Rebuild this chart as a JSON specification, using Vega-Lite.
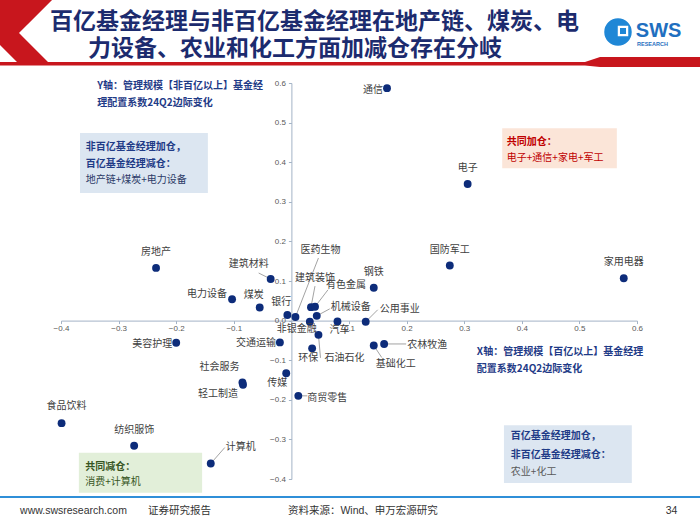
{
  "$schema": "https://vega.github.io/schema/vega-lite/v6.json",
  "width": 576,
  "height": 396,
  "autosize": {"type": "none"},
  "padding": {"left": 61, "top": 83, "right": 63, "bottom": 46},
  "background": "white",
  "title": {
    "text": "百亿基金经理与非百亿基金经理在地产链、煤炭、电",
    "anchor": "start", "frame": "group", "dx": -11, "offset": 22, "dy": 56,
    "font": "Noto Sans CJK SC", "fontSize": 23, "fontWeight": "bold", "color": "#1c2b6e"
  },
  "datasets": {
    "pts": [
      {"name": "通信", "x": 0.166, "y": 0.587},
      {"name": "电子", "x": 0.306, "y": 0.345},
      {"name": "国防军工", "x": 0.275, "y": 0.139},
      {"name": "家用电器", "x": 0.577, "y": 0.107},
      {"name": "钢铁", "x": 0.143, "y": 0.083},
      {"name": "房地产", "x": -0.235, "y": 0.133},
      {"name": "建筑材料", "x": -0.036, "y": 0.105},
      {"name": "电力设备", "x": -0.103, "y": 0.054},
      {"name": "煤炭", "x": -0.055, "y": 0.033},
      {"name": "银行", "x": -0.007, "y": 0.014},
      {"name": "医药生物", "x": 0.007, "y": 0.009},
      {"name": "非银金融", "x": 0.032, "y": -0.003},
      {"name": "建筑装饰", "x": 0.034, "y": 0.034},
      {"name": "有色金属", "x": 0.041, "y": 0.035},
      {"name": "机械设备", "x": 0.044, "y": 0.012},
      {"name": "汽车", "x": 0.080, "y": -0.002},
      {"name": "公用事业", "x": 0.129, "y": -0.003},
      {"name": "石油石化", "x": 0.047, "y": -0.036},
      {"name": "环保", "x": 0.036, "y": -0.070},
      {"name": "交通运输", "x": -0.020, "y": -0.055},
      {"name": "传媒", "x": -0.009, "y": -0.133},
      {"name": "社会服务", "x": -0.085, "y": -0.156},
      {"name": "轻工制造", "x": -0.084, "y": -0.162},
      {"name": "商贸零售", "x": 0.012, "y": -0.190},
      {"name": "基础化工", "x": 0.143, "y": -0.063},
      {"name": "农林牧渔", "x": 0.161, "y": -0.059},
      {"name": "美容护理", "x": -0.200, "y": -0.056},
      {"name": "食品饮料", "x": -0.399, "y": -0.259},
      {"name": "纺织服饰", "x": -0.273, "y": -0.316},
      {"name": "计算机", "x": -0.140, "y": -0.361}
    ],
    "boxes": [
      {"group": "UL", "x": -0.367, "x2": -0.145, "y": 0.474, "y2": 0.322},
      {"group": "UR", "x": 0.366, "x2": 0.565, "y": 0.486, "y2": 0.385},
      {"group": "LR", "x": 0.369, "x2": 0.591, "y": -0.264, "y2": -0.410},
      {"group": "LL", "x": -0.369, "x2": -0.155, "y": -0.334, "y2": -0.435}
    ],
    "notes": [
      {"role": "title2", "group": "T", "x": -0.3531, "y": 0.6871, "text": "力设备、农业和化工方面加减仓存在分岐"},
      {"role": "axis", "group": "Y", "x": -0.337, "y": 0.592, "text": "Y轴：管理规模【非百亿以上】基金经"},
      {"role": "axis", "group": "Y", "x": -0.337, "y": 0.549, "text": "理配置系数24Q2边际变化"},
      {"role": "axis", "group": "X", "x": 0.322, "y": -0.080, "text": "X轴：管理规模【百亿以上】基金经理"},
      {"role": "axis", "group": "X", "x": 0.322, "y": -0.122, "text": "配置系数24Q2边际变化"},
      {"role": "head", "group": "UL", "x": -0.357, "y": 0.438, "text": "非百亿基金经理加仓，"},
      {"role": "head", "group": "UL", "x": -0.357, "y": 0.395, "text": "百亿基金经理减仓："},
      {"role": "body", "group": "UL", "x": -0.357, "y": 0.355, "text": "地产链+煤炭+电力设备"},
      {"role": "head", "group": "UR", "x": 0.374, "y": 0.451, "text": "共同加仓："},
      {"role": "body", "group": "UR", "x": 0.374, "y": 0.411, "text": "电子+通信+家电+军工"},
      {"role": "head", "group": "LR", "x": 0.381, "y": -0.292, "text": "百亿基金经理加仓，"},
      {"role": "head", "group": "LR", "x": 0.381, "y": -0.340, "text": "非百亿基金经理减仓："},
      {"role": "body", "group": "LR", "x": 0.381, "y": -0.383, "text": "农业+化工"},
      {"role": "head", "group": "LL", "x": -0.358, "y": -0.370, "text": "共同减仓："},
      {"role": "body", "group": "LL", "x": -0.358, "y": -0.408, "text": "消费+计算机"},
      {"role": "footer", "group": "F", "x": -0.471, "y": -0.481, "text": "www.swsresearch.com"},
      {"role": "footer", "group": "F", "x": -0.249, "y": -0.481, "text": "证券研究报告"},
      {"role": "footer", "group": "F", "x": -0.006, "y": -0.481, "text": "资料来源：Wind、申万宏源研究"},
      {"role": "page", "group": "F", "x": 0.670, "y": -0.481, "text": "34"},
      {"role": "logo1", "group": "L", "x": 0.598, "y": 0.731, "text": "SWS"},
      {"role": "logo2", "group": "L", "x": 0.600, "y": 0.6985, "text": "RESEARCH"}
    ],
    "chev": [
      {"y": 0.8096, "x": -0.5059, "x2": -0.4156},
      {"y": 0.7263, "x": -0.5059, "x2": -0.4729},
      {"y": 0.6960, "x": -0.5059, "x2": -0.4521},
      {"y": 0.6530, "x": -0.4764, "x2": -0.4226}
    ],
    "bar": [
      {"x": -0.5059, "y": 0.6530, "y2": 0.6442},
      {"x": 0.5097, "y": 0.6530, "y2": 0.6442},
      {"x": 0.5358, "y": 0.6657, "y2": 0.6404},
      {"x": 0.7094, "y": 0.6657, "y2": 0.6404}
    ],
    "lines": [
      {"x": -0.5059, "x2": 0.7094, "y": -0.4455}
    ],
    "logo": [
      {"part": "circle", "x": 0.567, "y": 0.7288},
      {"part": "sq1", "x": 0.5757, "y": 0.7313},
      {"part": "sq2", "x": 0.5757, "y": 0.7313}
    ]
  },
  "encoding": {
    "x": {
      "field": "x", "type": "quantitative",
      "scale": {"domain": [-0.4, 0.6], "nice": false, "zero": false},
      "axis": {
        "values": [-0.4, -0.3, -0.2, -0.1, 0, 0.1, 0.2, 0.3, 0.4, 0.5, 0.6],
        "labelExpr": "datum.value == 0 ? '' : format(datum.value, '.1f')",
        "offset": -158.4, "title": null, "grid": false,
        "domainColor": "#a3b3c6", "tickColor": "#a3b3c6", "tickSize": 3,
        "labelFont": "Liberation Sans", "labelFontSize": 8, "labelColor": "#595959",
        "labelPadding": 1, "labelFlush": false, "labelOverlap": false
      }
    },
    "y": {
      "field": "y", "type": "quantitative",
      "scale": {"domain": [-0.4, 0.6], "nice": false, "zero": false},
      "axis": {
        "values": [-0.4, -0.3, -0.2, -0.1, 0, 0.1, 0.2, 0.3, 0.4, 0.5, 0.6],
        "format": ".1f",
        "offset": -230.4, "title": null, "grid": false,
        "domainColor": "#a3b3c6", "tickColor": "#a3b3c6", "tickSize": 3,
        "labelFont": "Liberation Sans", "labelFontSize": 8, "labelColor": "#595959",
        "labelPadding": 3, "labelFlush": false, "labelOverlap": false
      }
    }
  },
  "layer": [
    {"data": {"name": "chev"}, "mark": {"type": "area", "orient": "horizontal", "color": "#c8161d"}, "encoding": {"x2": {"field": "x2"}}},
    {"data": {"name": "bar"}, "mark": {"type": "area", "orient": "vertical", "color": "#c8161d"}, "encoding": {"y2": {"field": "y2"}}},
    {"data": {"name": "boxes"}, "mark": {"type": "rect"}, "encoding": {
      "x2": {"field": "x2"}, "y2": {"field": "y2"},
      "color": {"field": "group", "type": "nominal", "legend": null,
        "scale": {"domain": ["UL", "UR", "LR", "LL"], "range": ["#dce6f1", "#fbe5d8", "#dce6f1", "#e2efd9"]}}
    }},
    {"data": {"name": "lines"}, "mark": {"type": "rule", "color": "#2f8fd8", "strokeWidth": 2}, "encoding": {"x2": {"field": "x2"}}},
    {"data": {"name": "pts"}, "transform": [{"filter": "datum.name == '建筑材料'"}], "mark": {"type": "rule", "x2Offset": -12, "y2Offset": -6, "color": "#8c8c8c", "strokeWidth": 0.8}, "encoding": {"x2": {"field": "x"}, "y2": {"field": "y"}}},
    {"data": {"name": "pts"}, "transform": [{"filter": "datum.name == '医药生物'"}], "mark": {"type": "rule", "x2Offset": 23, "y2Offset": -59, "color": "#8c8c8c", "strokeWidth": 0.8}, "encoding": {"x2": {"field": "x"}, "y2": {"field": "y"}}},
    {"data": {"name": "pts"}, "transform": [{"filter": "datum.name == '建筑装饰'"}], "mark": {"type": "rule", "x2Offset": 4, "y2Offset": -21, "color": "#8c8c8c", "strokeWidth": 0.8}, "encoding": {"x2": {"field": "x"}, "y2": {"field": "y"}}},
    {"data": {"name": "pts"}, "transform": [{"filter": "datum.name == '有色金属'"}], "mark": {"type": "rule", "x2Offset": 13, "y2Offset": -17, "color": "#8c8c8c", "strokeWidth": 0.8}, "encoding": {"x2": {"field": "x"}, "y2": {"field": "y"}}},
    {"data": {"name": "pts"}, "transform": [{"filter": "datum.name == '机械设备'"}], "mark": {"type": "rule", "x2Offset": 13, "y2Offset": -7, "color": "#8c8c8c", "strokeWidth": 0.8}, "encoding": {"x2": {"field": "x"}, "y2": {"field": "y"}}},
    {"data": {"name": "pts"}, "transform": [{"filter": "datum.name == '公用事业'"}], "mark": {"type": "rule", "x2Offset": 12, "y2Offset": -12, "color": "#8c8c8c", "strokeWidth": 0.8}, "encoding": {"x2": {"field": "x"}, "y2": {"field": "y"}}},
    {"data": {"name": "pts"}, "transform": [{"filter": "datum.name == '石油石化'"}], "mark": {"type": "rule", "x2Offset": 2, "y2Offset": 23, "color": "#8c8c8c", "strokeWidth": 0.8}, "encoding": {"x2": {"field": "x"}, "y2": {"field": "y"}}},
    {"data": {"name": "pts"}, "transform": [{"filter": "datum.name == '商贸零售'"}], "mark": {"type": "rule", "x2Offset": 9, "y2Offset": 0, "color": "#8c8c8c", "strokeWidth": 0.8}, "encoding": {"x2": {"field": "x"}, "y2": {"field": "y"}}},
    {"data": {"name": "pts"}, "transform": [{"filter": "datum.name == '基础化工'"}], "mark": {"type": "rule", "x2Offset": 8, "y2Offset": 12, "color": "#8c8c8c", "strokeWidth": 0.8}, "encoding": {"x2": {"field": "x"}, "y2": {"field": "y"}}},
    {"data": {"name": "pts"}, "transform": [{"filter": "datum.name == '农林牧渔'"}], "mark": {"type": "rule", "x2Offset": 22, "y2Offset": 0, "color": "#8c8c8c", "strokeWidth": 0.8}, "encoding": {"x2": {"field": "x"}, "y2": {"field": "y"}}},
    {"data": {"name": "pts"}, "transform": [{"filter": "datum.name == '计算机'"}], "mark": {"type": "rule", "x2Offset": 14, "y2Offset": -16, "color": "#8c8c8c", "strokeWidth": 0.8}, "encoding": {"x2": {"field": "x"}, "y2": {"field": "y"}}},
    {"data": {"name": "pts"}, "mark": {"type": "circle", "size": 62, "color": "#0d2c7a", "opacity": 1}},
    {"data": {"name": "pts"}, "transform": [{"filter": {"field": "name", "oneOf": ["电子", "国防军工", "家用电器", "钢铁", "房地产", "纺织服饰"]}}], "mark": {"type": "text", "dx": 0, "dy": -16}, "encoding": {"text": {"field": "name"}}},
    {"data": {"name": "pts"}, "transform": [{"filter": "datum.name == '食品饮料'"}], "mark": {"type": "text", "dx": 5, "dy": -17}, "encoding": {"text": {"field": "name"}}},
    {"data": {"name": "pts"}, "transform": [{"filter": "datum.name == '通信'"}], "mark": {"type": "text", "dx": -14, "dy": 2}, "encoding": {"text": {"field": "name"}}},
    {"data": {"name": "pts"}, "transform": [{"filter": "datum.name == '建筑材料'"}], "mark": {"type": "text", "dx": -22, "dy": -15}, "encoding": {"text": {"field": "name"}}},
    {"data": {"name": "pts"}, "transform": [{"filter": "datum.name == '电力设备'"}], "mark": {"type": "text", "dx": -25, "dy": -5}, "encoding": {"text": {"field": "name"}}},
    {"data": {"name": "pts"}, "transform": [{"filter": {"field": "name", "oneOf": ["银行", "煤炭"]}}], "mark": {"type": "text", "dx": -6, "dy": -13}, "encoding": {"text": {"field": "name"}}},
    {"data": {"name": "pts"}, "transform": [{"filter": "datum.name == '医药生物'"}], "mark": {"type": "text", "dx": 25, "dy": -67}, "encoding": {"text": {"field": "name"}}},
    {"data": {"name": "pts"}, "transform": [{"filter": "datum.name == '建筑装饰'"}], "mark": {"type": "text", "dx": 4, "dy": -29}, "encoding": {"text": {"field": "name"}}},
    {"data": {"name": "pts"}, "transform": [{"filter": "datum.name == '有色金属'"}], "mark": {"type": "text", "dx": 31, "dy": -22}, "encoding": {"text": {"field": "name"}}},
    {"data": {"name": "pts"}, "transform": [{"filter": "datum.name == '机械设备'"}], "mark": {"type": "text", "dx": 34, "dy": -9}, "encoding": {"text": {"field": "name"}}},
    {"data": {"name": "pts"}, "transform": [{"filter": "datum.name == '公用事业'"}], "mark": {"type": "text", "dx": 34, "dy": -13}, "encoding": {"text": {"field": "name"}}},
    {"data": {"name": "pts"}, "transform": [{"filter": "datum.name == '非银金融'"}], "mark": {"type": "text", "dx": -13, "dy": 7}, "encoding": {"text": {"field": "name"}}},
    {"data": {"name": "pts"}, "transform": [{"filter": "datum.name == '汽车'"}], "mark": {"type": "text", "dx": 2, "dy": 9}, "encoding": {"text": {"field": "name"}}},
    {"data": {"name": "pts"}, "transform": [{"filter": "datum.name == '石油石化'"}], "mark": {"type": "text", "dx": 26, "dy": 23}, "encoding": {"text": {"field": "name"}}},
    {"data": {"name": "pts"}, "transform": [{"filter": "datum.name == '环保'"}], "mark": {"type": "text", "dx": -4, "dy": 10}, "encoding": {"text": {"field": "name"}}},
    {"data": {"name": "pts"}, "transform": [{"filter": "datum.name == '传媒'"}], "mark": {"type": "text", "dx": -9, "dy": 10}, "encoding": {"text": {"field": "name"}}},
    {"data": {"name": "pts"}, "transform": [{"filter": {"field": "name", "oneOf": ["交通运输", "美容护理"]}}], "mark": {"type": "text", "dx": -24, "dy": 1}, "encoding": {"text": {"field": "name"}}},
    {"data": {"name": "pts"}, "transform": [{"filter": "datum.name == '社会服务'"}], "mark": {"type": "text", "dx": -23, "dy": -15}, "encoding": {"text": {"field": "name"}}},
    {"data": {"name": "pts"}, "transform": [{"filter": "datum.name == '轻工制造'"}], "mark": {"type": "text", "dx": -25, "dy": 9}, "encoding": {"text": {"field": "name"}}},
    {"data": {"name": "pts"}, "transform": [{"filter": "datum.name == '商贸零售'"}], "mark": {"type": "text", "dx": 29, "dy": 2}, "encoding": {"text": {"field": "name"}}},
    {"data": {"name": "pts"}, "transform": [{"filter": "datum.name == '基础化工'"}], "mark": {"type": "text", "dx": 22, "dy": 18}, "encoding": {"text": {"field": "name"}}},
    {"data": {"name": "pts"}, "transform": [{"filter": "datum.name == '农林牧渔'"}], "mark": {"type": "text", "dx": 43, "dy": 1}, "encoding": {"text": {"field": "name"}}},
    {"data": {"name": "pts"}, "transform": [{"filter": "datum.name == '计算机'"}], "mark": {"type": "text", "dx": 30, "dy": -17}, "encoding": {"text": {"field": "name"}}},
    {"data": {"name": "notes"}, "transform": [{"filter": "datum.role == 'title2'"}], "mark": {"type": "text", "align": "left", "fontWeight": "bold", "color": "#1c2b6e", "fontSize": 23}, "encoding": {"text": {"field": "text"}}},
    {"data": {"name": "notes"}, "transform": [{"filter": "datum.role == 'axis'"}], "mark": {"type": "text", "align": "left", "fontWeight": "bold", "color": "#1f3b87", "fontSize": 10}, "encoding": {"text": {"field": "text"}}},
    {"data": {"name": "notes"}, "transform": [{"filter": "datum.role == 'head'"}], "mark": {"type": "text", "align": "left", "fontWeight": "bold", "fontSize": 10}, "encoding": {
      "text": {"field": "text"},
      "color": {"field": "group", "type": "nominal", "legend": null,
        "scale": {"domain": ["UL", "UR", "LR", "LL"], "range": ["#1f3b87", "#c00000", "#1f3b87", "#375623"]}}
    }},
    {"data": {"name": "notes"}, "transform": [{"filter": "datum.role == 'body'"}], "mark": {"type": "text", "align": "left", "fontSize": 10}, "encoding": {
      "text": {"field": "text"},
      "color": {"field": "group", "type": "nominal", "legend": null,
        "scale": {"domain": ["UL", "UR", "LR", "LL"], "range": ["#2b3a67", "#c00000", "#595959", "#375623"]}}
    }},
    {"data": {"name": "notes"}, "transform": [{"filter": "datum.role == 'footer'"}], "mark": {"type": "text", "align": "left", "font": "Liberation Sans, Noto Sans CJK SC", "fontSize": 10.5, "color": "#333333"}, "encoding": {"text": {"field": "text"}}},
    {"data": {"name": "notes"}, "transform": [{"filter": "datum.role == 'page'"}], "mark": {"type": "text", "align": "right", "font": "Liberation Sans", "fontSize": 10.5, "color": "#333333"}, "encoding": {"text": {"field": "text"}}},
    {"data": {"name": "logo"}, "transform": [{"filter": "datum.part == 'circle'"}], "mark": {"type": "point", "shape": "circle", "filled": true, "size": 755, "color": "#1f87d6", "opacity": 1}},
    {"data": {"name": "logo"}, "transform": [{"filter": "datum.part == 'sq1'"}], "mark": {"type": "point", "shape": "square", "filled": true, "size": 110, "color": "#ffffff", "opacity": 1}},
    {"data": {"name": "logo"}, "transform": [{"filter": "datum.part == 'sq2'"}], "mark": {"type": "point", "shape": "square", "filled": true, "size": 36, "color": "#1f87d6", "opacity": 1}},
    {"data": {"name": "notes"}, "transform": [{"filter": "datum.role == 'logo1'"}], "mark": {"type": "text", "align": "left", "font": "Liberation Sans", "fontWeight": "bold", "fontSize": 20, "color": "#1f6fc0"}, "encoding": {"text": {"field": "text"}}},
    {"data": {"name": "notes"}, "transform": [{"filter": "datum.role == 'logo2'"}], "mark": {"type": "text", "align": "left", "font": "Liberation Sans", "fontWeight": "bold", "fontSize": 5.5, "color": "#1f6fc0"}, "encoding": {"text": {"field": "text"}}}
  ],
  "resolve": {"scale": {"color": "independent"}},
  "config": {
    "view": {"stroke": null},
    "text": {"font": "Noto Sans CJK SC", "fontSize": 10, "color": "#404040", "baseline": "middle"}
  }
}
